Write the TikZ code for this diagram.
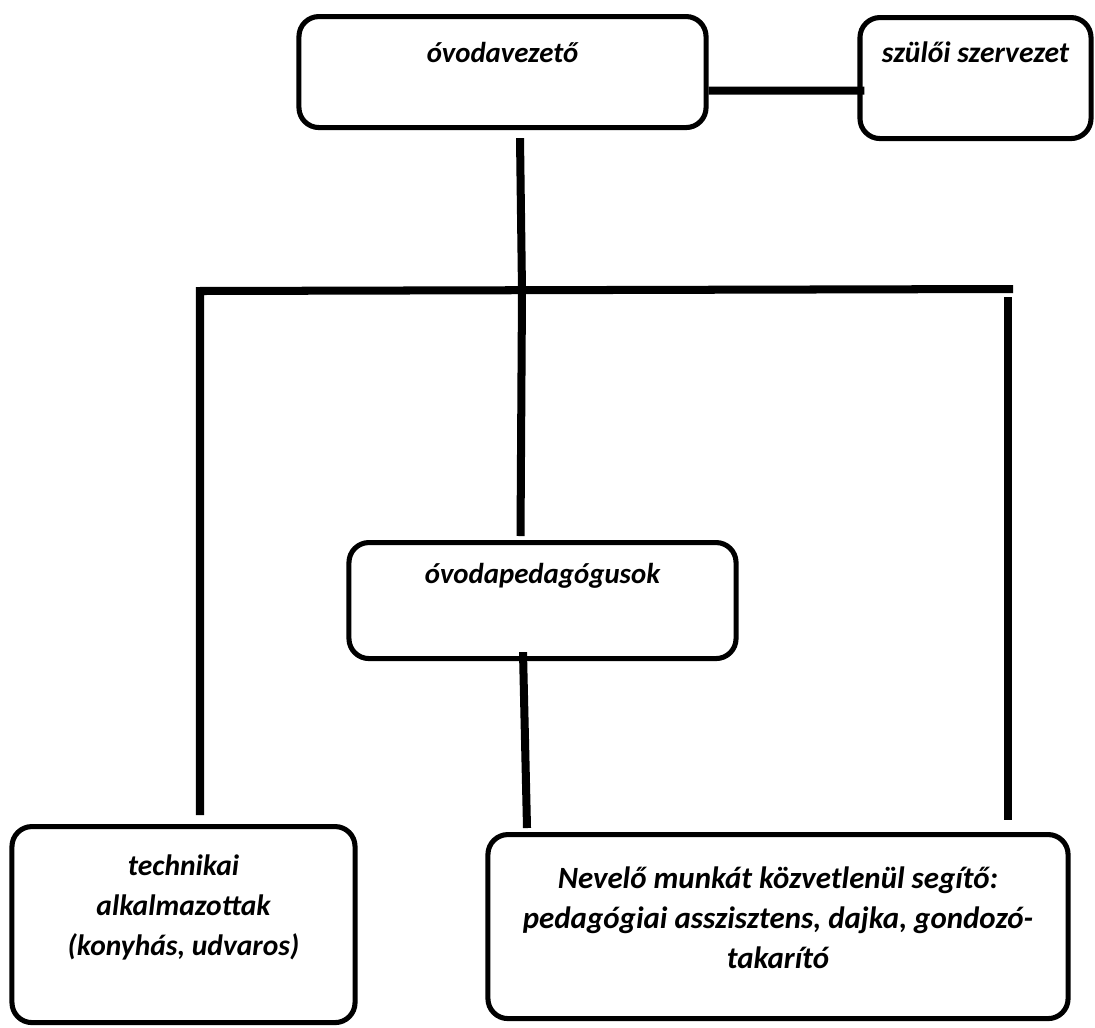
\documentclass[tikz,border=0pt]{standalone}
\usepackage{fontspec}
\setmainfont{Carlito}
\usepackage{tikz}
\usetikzlibrary{calc}
\tikzset{
	box/.style={draw, line width=3.6pt, rounded corners=0.5cm, align=center, inner sep=0pt, anchor=north,
		font=\bfseries\itshape\fontsize{20.5}{28.5}\selectfont}, % Cajas de la jerarquia
	big/.style={font=\bfseries\itshape\fontsize{#1}{28.5}\selectfont}, % Letra algo mayor
	link/.style={line width=5.7pt}, % Lineas gruesas entre cajas
}

\begin{document}
\begin{tikzpicture}[x=0.025cm, y=-0.025cm]
				\useasboundingbox (0,0) rectangle (1095,1027);
				
				\node[box, minimum width=10.175cm, text height=1.15cm, text depth=1.625cm] (lead) at (502.5,14) {óvodavezető};
				\node[box, big=21, minimum width=5.775cm, text height=1.125cm, text depth=1.9cm] (parents) at (975.5,15) {szülői szervezet};
				
				\node[box, minimum width=9.675cm, text height=1.025cm, text depth=1.875cm] (teachers) at (542.5,540) {óvodapedagógusok};
				
				\node[box, big=21, minimum width=8.575cm, text height=3.225cm, text depth=1.675cm] (tech) at (183.5,824) {technikai\\alkalmazottak\\(konyhás, udvaros)};
				\node[box, big=22, minimum width=14.5cm, text height=3.35cm, text depth=1.25cm] (support) at (778,832) {Nevelő munkát közvetlenül segítő:\\pedagógiai asszisztens, dajka, gondozó-\\takarító};
				
				\coordinate (bar west) at (200,291);
				\coordinate (bar east) at (1013,289);
				\coordinate (hub) at (522,291);
				\coordinate (bar drop) at (1008,297);
				
				\draw[link] ([shift={(0,18.5)}]lead.east) -- ([shift={(7,12.5)}]parents.west);
				\draw[link] ([shift={(17.5,8)}]lead.south) -- (hub) -- ([shift={(-22,-4)}]teachers.north);
				\draw[link] ([shift={(16.5,-9)}]tech.north) -- (bar west) -- (bar east);
				\draw[link] (bar drop) -- ([shift={(230,-12)}]support.north);
				\draw[link] ([shift={(-19.5,-9)}]teachers.south) -- ([shift={(-251,-4)}]support.north);
			\end{tikzpicture}
\end{document}
